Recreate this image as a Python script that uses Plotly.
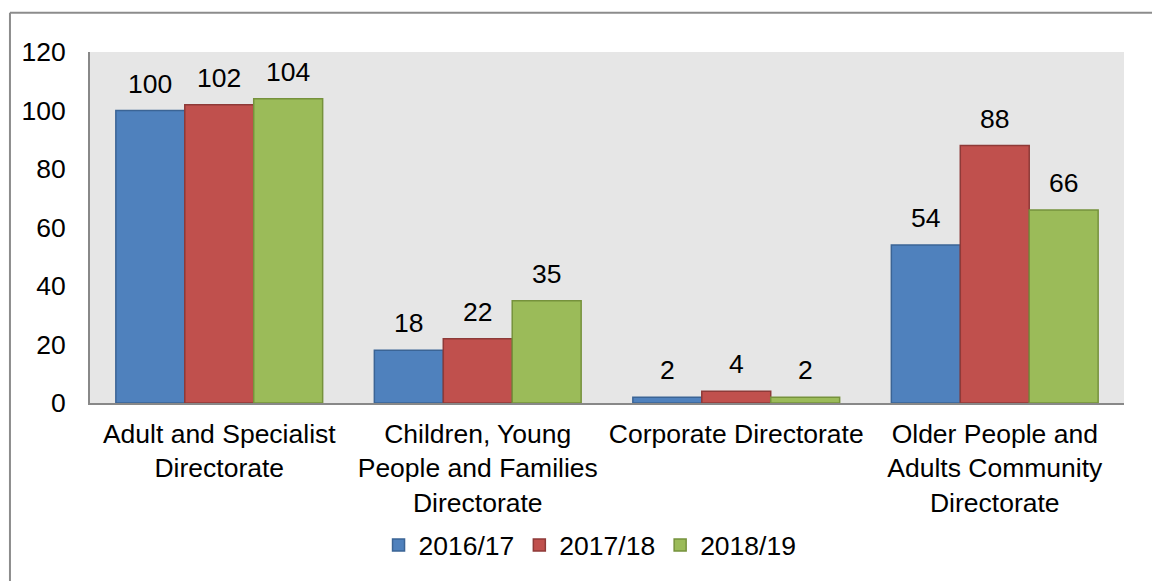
import plotly.graph_objects as go

# Directorates and yearly counts
categories = [
    "Adult and Specialist<br>Directorate",
    "Children, Young<br>People and Families<br>Directorate",
    "Corporate Directorate",
    "Older People and<br>Adults Community<br>Directorate",
]
years = ["2016/17", "2017/18", "2018/19"]
values_2016_17 = [100, 18, 2, 54]
values_2017_18 = [102, 22, 4, 88]
values_2018_19 = [104, 35, 2, 66]
series = [values_2016_17, values_2017_18, values_2018_19]

fills = ["#4F81BD", "#C0504D", "#9BBB59"]
edges = ["#3B6495", "#8E3A38", "#76923C"]

FONT = "Liberation Sans, Arial, sans-serif"
SIZE = 26.5
BAR_GAP = 0.2
x_pos = list(range(len(categories)))
bar_w = (1 - BAR_GAP) / len(series)

fig = go.Figure()
for k, (name, vals) in enumerate(zip(years, series)):
    fig.add_trace(go.Bar(
        x=x_pos, y=vals, name=name,
        marker=dict(color=fills[k], line=dict(color=edges[k], width=1.5)),
    ))
    offset = (k - (len(series) - 1) / 2) * bar_w
    for xi, v in zip(x_pos, vals):
        fig.add_annotation(
            x=xi + offset, y=v, text=str(v), showarrow=False,
            xanchor="center", yanchor="bottom", yshift=10,
            font=dict(family=FONT, size=SIZE, color="#000000"),
        )

# Frame along the top and left edges
fig.add_shape(type="line", xref="paper", yref="paper",
              x0=-0.0774, x1=1.2, y0=1.112, y1=1.112,
              line=dict(color="#8C8C8C", width=2))
fig.add_shape(type="line", xref="paper", yref="paper",
              x0=-0.0774, x1=-0.0774, y0=1.112, y1=-0.6,
              line=dict(color="#8C8C8C", width=2))

fig.update_layout(
    width=1152, height=581,
    margin=dict(l=90, r=28, t=52, b=176),
    barmode="group", bargap=BAR_GAP, bargroupgap=0,
    plot_bgcolor="#E6E6E6", paper_bgcolor="#FFFFFF",
    font=dict(family=FONT, size=SIZE, color="#000000"),
    showlegend=True,
    legend=dict(
        orientation="h", x=0.4836, xanchor="center", y=-0.405, yanchor="middle",
        font=dict(family=FONT, size=SIZE), itemwidth=30, tracegroupgap=0,
        bgcolor="rgba(0,0,0,0)",
    ),
    xaxis=dict(
        tickmode="array", tickvals=x_pos, ticktext=categories,
        range=[-0.5, len(categories) - 0.5],
        showgrid=False, zeroline=False, showline=True,
        linecolor="#888888", linewidth=2, ticks="",
        ticklabelstandoff=6,
        tickfont=dict(family=FONT, size=SIZE),
    ),
    yaxis=dict(
        range=[0, 120], tickvals=[0, 20, 40, 60, 80, 100, 120],
        showgrid=False, zeroline=False, showline=True,
        linecolor="#888888", linewidth=2, ticks="",
        ticklabelstandoff=17,
        tickfont=dict(family=FONT, size=SIZE),
    ),
)

fig.write_html("out.html")
